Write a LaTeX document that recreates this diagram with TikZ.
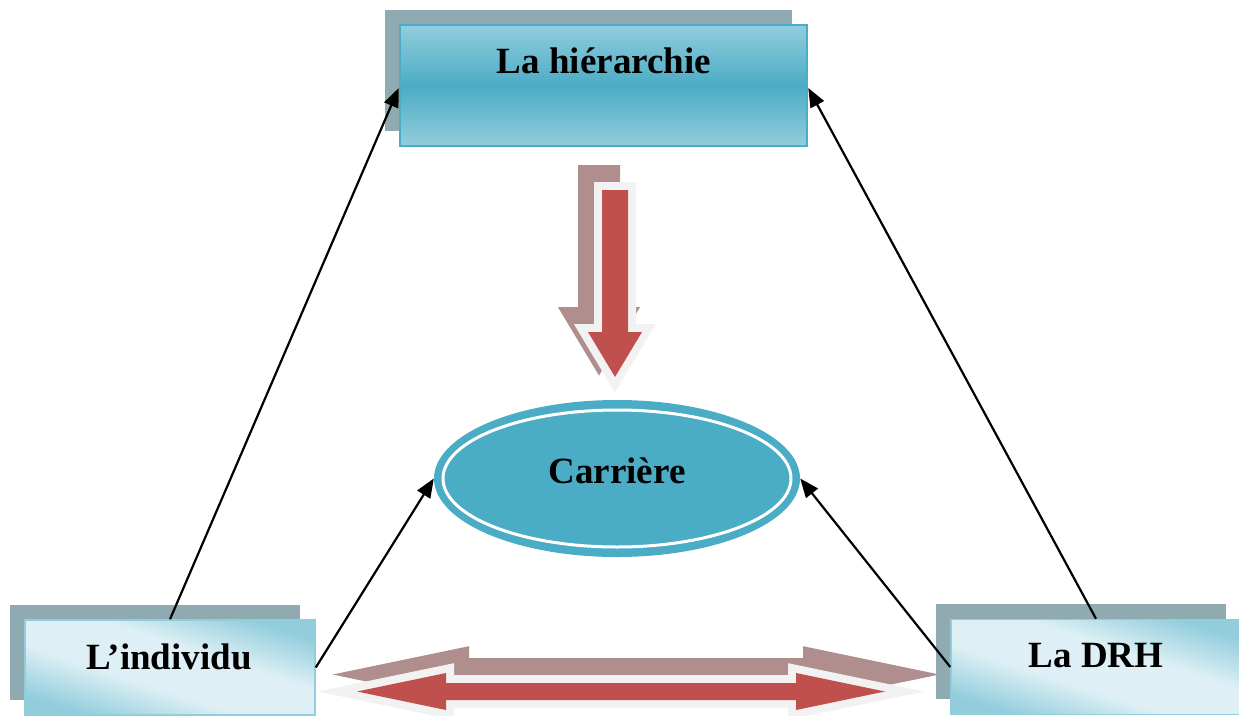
\documentclass[tikz,border=0pt]{standalone}
\usepackage{fontspec}
\setmainfont{Liberation Serif}
\usetikzlibrary{shapes.geometric,arrows.meta,shadows}
\definecolor{boxshadow}{RGB}{143,170,177}
\definecolor{bluedark}{RGB}{75,172,198}
\definecolor{bluelight}{RGB}{146,205,220}
\definecolor{bluepale}{RGB}{222,240,245}
\definecolor{redarrow}{RGB}{192,80,77}
\definecolor{arrowrim}{RGB}{242,242,242}
\definecolor{arrowshadow}{RGB}{176,142,142}
\pgfdeclareverticalshading{sidegrad}{100bp}{color(0bp)=(bluelight); color(25bp)=(bluelight); color(42bp)=(bluepale); color(58bp)=(bluepale); color(75bp)=(bluelight); color(100bp)=(bluelight)}
\newcommand\DownArrowShape[1]{\path[#1] (602,190) -- (628,190) -- (628,332) -- (642,332) -- (615,377) -- (588,332) -- (602,332) -- cycle;}
\newcommand\TwoWayArrowShape[1]{\path[#1] (357,691.5) -- (446,673) -- (446,683) -- (796,683) -- (796,673) -- (885,691.5) -- (796,710) -- (796,700) -- (446,700) -- (446,710) -- cycle;}
\begin{document}
\begin{tikzpicture}[x=1pt,y=-1pt,
  boxshade/.style={general shadow={fill=boxshadow, shadow xshift=-15.5pt, shadow yshift=15.5pt}},
  topbox/.style={rectangle, inner sep=0pt, minimum width=407pt, minimum height=121pt,
    draw=bluedark, line width=2.5pt, top color=bluelight, bottom color=bluelight, middle color=bluedark, boxshade},
  sidebox/.style={rectangle, inner sep=0pt, minimum width=290pt, minimum height=95pt,
    draw=bluelight, line width=1.5pt, shading=sidegrad, shading angle=-18, boxshade},
  lbl/.style={font=\bfseries\fontsize{37}{44}\selectfont, inner sep=0pt, anchor=base},
  conn/.style={draw=black, line width=2.2pt, -{Triangle[length=19pt,width=15pt]}},
  arrshadow/.style={draw=arrowshadow, fill=arrowshadow, line width=16pt, line join=miter},
  arrrim/.style={draw=arrowrim, fill=arrowrim, line width=16pt, line join=miter},
  arrbody/.style={fill=redarrow}
]
\useasboundingbox (0,0) rectangle (1239,715);
\clip (0,0) rectangle (1239,715);

% block arrows
\begin{scope}[xshift=-16pt, yshift=17pt]
  \DownArrowShape{arrshadow}
\end{scope}
\DownArrowShape{arrrim}
\DownArrowShape{arrbody}

\begin{scope}[xshift=15pt, yshift=17pt]
  \TwoWayArrowShape{arrshadow}
\end{scope}
\TwoWayArrowShape{arrrim}
\TwoWayArrowShape{arrbody}

% boxes
\node[topbox] (hier) at (603.5,85.5) {};
\node[sidebox] (ind) at (170,667.5) {};
\node[sidebox] (drh) at (1096,667) {};

% ellipse
\node[ellipse, minimum width=366pt, minimum height=157pt, inner sep=0pt, fill=bluedark] (car) at (617,478.5) {};
\draw[white, line width=3pt] (car.center) ellipse [x radius=174pt, y radius=68.5pt];

% connectors
\draw[conn] (ind.north) -- ([yshift=-2.5pt]hier.west);
\draw[conn] (drh.north) -- ([yshift=-2.5pt]hier.east);
\draw[conn] (ind.east) -- (car.west);
\draw[conn] (drh.west) -- (car.east);

% labels
\node[lbl] (thier) at (604,73) {La hiérarchie};
\node[lbl] (tcar) at (617,483) {Carrière};
\node[lbl] (tind) at (169,669) {L’individu};
\node[lbl] (tdrh) at (1096,667) {La DRH};
\end{tikzpicture}
\end{document}
